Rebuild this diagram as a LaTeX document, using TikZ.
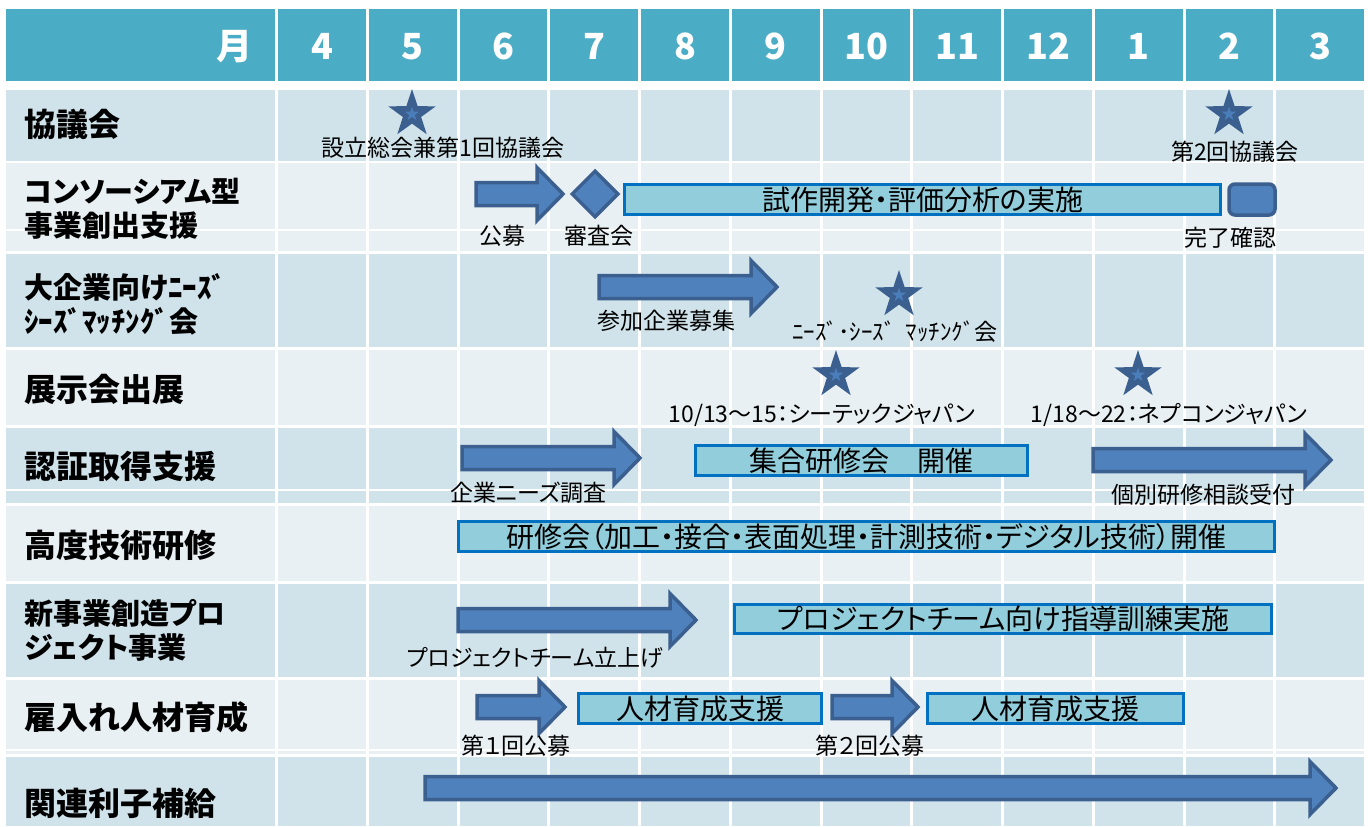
\documentclass[tikz,border=0pt]{standalone}
\usepackage{fontspec}
\setmainfont{Noto Sans CJK JP}[RawFeature=+palt]
\usetikzlibrary{shapes.geometric,positioning}

\definecolor{headcol}{HTML}{4BACC6}
\definecolor{banddark}{HTML}{D0E3EA}
\definecolor{bandlight}{HTML}{E9F0F3}
\definecolor{arrowfill}{HTML}{4F81BD}
\definecolor{arrowline}{HTML}{3B5F8E}
\definecolor{barfill}{HTML}{92CDDC}
\definecolor{barline}{HTML}{0070C0}
\definecolor{starlight}{HTML}{4A7EBB}

\tikzset{
  rowname/.style={anchor=west, inner sep=0pt, align=left, font=\bfseries\fontsize{32}{34}\selectfont},
  rowname2/.style={rowname, font=\bfseries\fontsize{29}{34}\selectfont},
  month/.style={text=white, inner sep=0pt, font=\bfseries\fontsize{36}{36}\selectfont},
  tasklabel/.style={inner sep=0pt, font=\fontsize{23}{24}\selectfont},
  bar/.style={draw=barline, fill=barfill, line width=3pt, inner sep=0pt, font=\fontsize{28}{28}\selectfont},
  blockarrow/.style={draw=arrowline, fill=arrowfill, line width=3.5pt, line join=miter},
  colsep/.style={white, line width=3pt},
  evstar/.style={star, star points=5, star point ratio=2.6, fill=arrowline, inner sep=0pt, minimum size=50pt},
  evcore/.style={star, star points=5, star point ratio=2.6, fill=starlight, inner sep=0pt, minimum size=15pt},
}

% block arrow: start x, tip x, centre y
\newcommand{\blockarrow}[3]{%
  \draw[blockarrow] (#1,#3-11.5) -- (#2-28,#3-11.5) -- (#2-28,#3-26.5) -- (#2-2,#3)
    -- (#2-28,#3+26.5) -- (#2-28,#3+11.5) -- (#1,#3+11.5) -- cycle;}

\begin{document}
\begin{tikzpicture}[x=1pt, y=-1pt]
      \useasboundingbox (0,0) rectangle (1368,827);

      % Row bands
      \fill[headcol] (6,9) rectangle (1364,80.5);
      \fill[banddark] (6,90) rectangle (1364,161);
      \fill[bandlight] (6,163) rectangle (1364,251);
      \fill[banddark] (6,254) rectangle (1364,347);
      \fill[bandlight] (6,350) rectangle (1364,425);
      \fill[banddark] (6,428) rectangle (1364,503);
      \fill[bandlight] (6,506) rectangle (1364,581);
      \fill[banddark] (6,584) rectangle (1364,677);
      \fill[bandlight] (6,680) rectangle (1364,754);
      \fill[banddark] (6,757) rectangle (1364,826);

      % White split lines inside rows
      \draw[white, line width=2pt] (6,230) -- (1364,230);
      \draw[white, line width=2pt] (6,490) -- (1364,490);
      \draw[white, line width=2pt] (6,750) -- (1364,750);

      % Column separators
      \draw[colsep] (276.5,9) -- (276.5,827);
      \draw[colsep] (367.25,9) -- (367.25,827);
      \draw[colsep] (458,9) -- (458,827);
      \draw[colsep] (548.75,9) -- (548.75,827);
      \draw[colsep] (639.5,9) -- (639.5,827);
      \draw[colsep] (730.25,9) -- (730.25,827);
      \draw[colsep] (821,9) -- (821,827);
      \draw[colsep] (911.75,9) -- (911.75,827);
      \draw[colsep] (1002.5,9) -- (1002.5,827);
      \draw[colsep] (1093.25,9) -- (1093.25,827);
      \draw[colsep] (1184,9) -- (1184,827);
      \draw[colsep] (1274.75,9) -- (1274.75,827);

      % Header
      \node[month, anchor=east] (mhead) at (253,47) {月};
      \node[month] (m4) at (322,46.5) {4};
      \node[month] (m5) at (412.75,46.5) {5};
      \node[month] (m6) at (503.5,46.5) {6};
      \node[month] (m7) at (594.25,46.5) {7};
      \node[month] (m8) at (685,46.5) {8};
      \node[month] (m9) at (775.75,46.5) {9};
      \node[month] (m10) at (866.5,46.5) {10};
      \node[month] (m11) at (957.25,46.5) {11};
      \node[month] (m12) at (1048,46.5) {12};
      \node[month] (m1) at (1138.75,46.5) {1};
      \node[month] (m2) at (1229.5,46.5) {2};
      \node[month] (m3) at (1320.25,46.5) {3};

      % Row names
      \node[rowname] (kyogi) at (24,124) {協議会};
      \node[rowname2] (consort) at (24,209) {コンソーシアム型\\事業創出支援};
      \node[rowname2] (needs) at (24,304) {大企業向けﾆｰｽﾞ\\ｼｰｽﾞﾏｯﾁﾝｸﾞ会};
      \node[rowname] (expo) at (24,389) {展示会出展};
      \node[rowname] (cert) at (24,466) {認証取得支援};
      \node[rowname] (adv) at (24,545) {高度技術研修};
      \node[rowname2] (newbiz) at (24,630) {新事業創造プロ\\ジェクト事業};
      \node[rowname] (hire) at (24,717) {雇入れ人材育成};
      \node[rowname] (interest) at (24,803) {関連利子補給};

      % Stars (events)
      \node[evstar] (st1) at (412,114) {};
      \node[evcore] at (st1.center) {};
      \node[evstar] (st2) at (1229,114) {};
      \node[evcore] at (st2.center) {};
      \node[evstar] (st3) at (899,295) {};
      \node[evcore] at (st3.center) {};
      \node[evstar] (st4) at (836,375) {};
      \node[evcore] at (st4.center) {};
      \node[evstar] (st5) at (1138,375) {};
      \node[evcore] at (st5.center) {};

      % Block arrows
      \blockarrow{476}{565}{194}
      \blockarrow{599}{779}{287}
      \blockarrow{462}{642}{458}
      \blockarrow{1093}{1333}{460}
      \blockarrow{458}{698}{620}
      \blockarrow{477}{567}{707}
      \blockarrow{832}{920}{707}
      \blockarrow{425}{1338}{788}

      % Review and completion marks
      \node[diamond, draw=arrowline, fill=arrowfill, line width=3.5pt, inner sep=0pt, minimum size=47pt] (review) at (595,194) {};
      \node[draw=arrowline, fill=arrowfill, line width=3.5pt, rounded corners=6pt, inner sep=0pt, minimum width=46pt, minimum height=31pt] (done) at (1252,199.5) {};

      % Bars
      \node[bar, minimum width=596pt, minimum height=30pt] (trial) at (922.5,199.5) {試作開発・評価分析の実施};
      \node[bar, minimum width=332pt, minimum height=30pt] (group) at (861.5,460.5) {集合研修会　開催};
      \node[bar, minimum width=816pt, minimum height=30pt] (course) at (866.5,536.5) {研修会（加工・接合・表面処理・計測技術・デジタル技術）開催};
      \node[bar, minimum width=537pt, minimum height=29pt] (guide) at (1003,619) {プロジェクトチーム向け指導訓練実施};
      \node[bar, minimum width=243pt, minimum height=30pt] (hr1) at (700,708.5) {人材育成支援};
      \node[bar, minimum width=256pt, minimum height=30pt] (hr2) at (1055.5,708.5) {人材育成支援};

      % Labels
      \node[tasklabel] (l1) at (443,148) {設立総会兼第1回協議会};
      \node[tasklabel] (l2) at (1235,152) {第2回協議会};
      \node[tasklabel] (l3) at (502,236) {公募};
      \node[tasklabel] (l4) at (599,236) {審査会};
      \node[tasklabel] (l5) at (1230,238) {完了確認};
      \node[tasklabel] (l6) at (666,321) {参加企業募集};
      \node[tasklabel] (l7) at (895,332) {ﾆｰｽﾞ･ｼｰｽﾞ\ \ ﾏｯﾁﾝｸﾞ会};
      \node[tasklabel] (l8) at (822,415) {10/13～15：シーテックジャパン};
      \node[tasklabel] (l9) at (1169,415) {1/18～22：ネプコンジャパン};
      \node[tasklabel] (l10) at (528,493) {企業ニーズ調査};
      \node[tasklabel] (l11) at (1203,495) {個別研修相談受付};
      \node[tasklabel] (l12) at (535,658) {プロジェクトチーム立上げ};
      \node[tasklabel] (l13) at (516,746) {第１回公募};
      \node[tasklabel] (l14) at (870,746) {第２回公募};
\end{tikzpicture}
\end{document}
